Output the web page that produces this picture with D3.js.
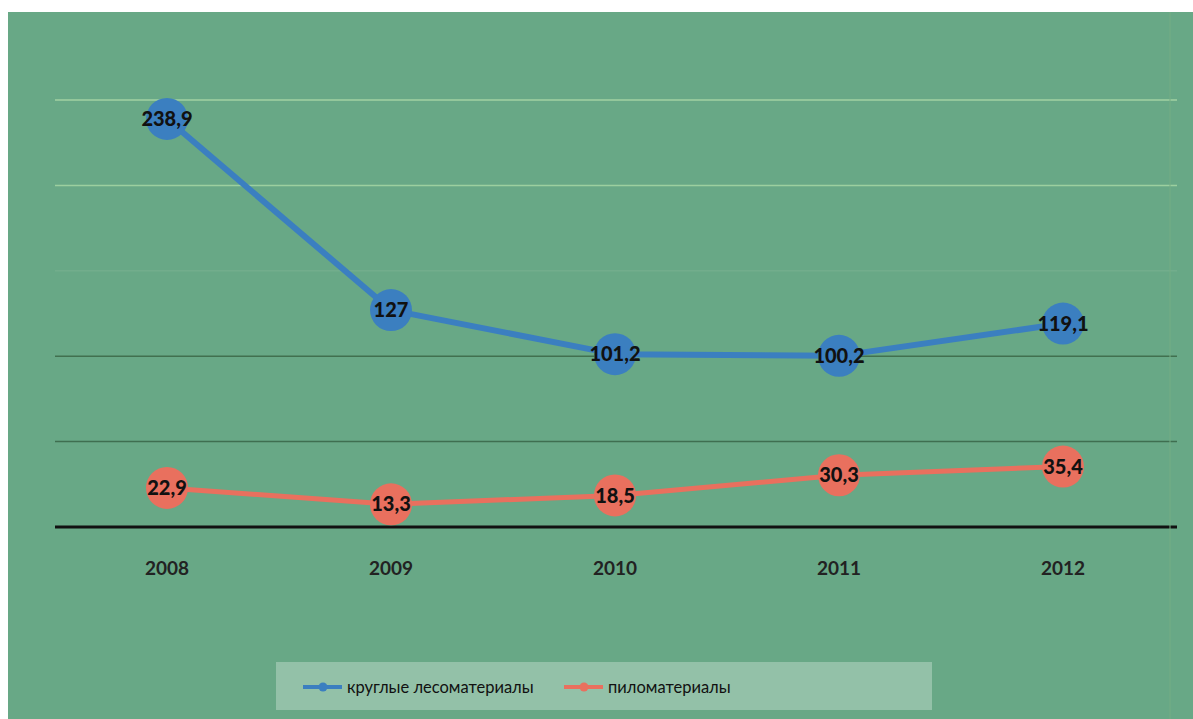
<!DOCTYPE html>
<html><head><meta charset="utf-8">
<script src="https://cdn.jsdelivr.net/npm/d3@7"></script>
<style>html,body{margin:0;padding:0;background:#fff;}svg{display:block;}</style>
</head><body>
<svg id="c" width="1193" height="719"></svg>
<script>
const years = ["2008","2009","2010","2011","2012"];
const roundTimber = [238.9, 127, 101.2, 100.2, 119.1];
const sawnTimber = [22.9, 13.3, 18.5, 30.3, 35.4];
const seriesNames = ["круглые лесоматериалы", "пиломатериалы"];
const gridTicks = [50, 100, 150, 200, 250];

const svg = d3.select("#c");
const W = 1193, H = 719;
const font = "Lato, 'Open Sans', sans-serif";

// background
svg.append("rect").attr("x",8).attr("y",12).attr("width",W-8).attr("height",H-12).attr("fill","#68a886");

const x = d3.scaleBand().domain(years).range([55,1175]);
const cx = d => x(d) + x.bandwidth()/2;
const y = d3.scaleLinear().domain([0,250]).range([527,100]);

const gridColor = {50:"#3f6e50",100:"#41704f",150:"#72ad8c",200:"#9ccf9f",250:"#a2d2a2"};
svg.append("g").selectAll("line").data(gridTicks).join("line")
  .attr("x1",55).attr("x2",1177).attr("y1",d=>y(d)).attr("y2",d=>y(d))
  .attr("stroke",d=>gridColor[d]).attr("stroke-width",1.5);
// baseline axis
const xAxis = svg.append("g").attr("transform",`translate(0,${y(0)})`)
  .call(d3.axisBottom(x).tickSize(0).tickPadding(35));
xAxis.attr("font-size",null).attr("font-family",null);
xAxis.select(".domain").attr("stroke","#111").attr("stroke-width",3).attr("d","M55,0H1177");
xAxis.selectAll("text").style("font-family",font).style("font-weight","bold").style("font-size","19px").attr("fill","#222");

// faint vertical line at right
svg.append("line").attr("x1",1170).attr("x2",1170).attr("y1",12).attr("y2",H).attr("stroke","#74ad84").attr("stroke-width",1);

const series = [
  {name:seriesNames[0], values:roundTimber, color:"#3b7fc0", w:6},
  {name:seriesNames[1], values:sawnTimber, color:"#e9705e", w:5}
];
const line = d3.line().x((d,i)=>cx(years[i])).y(d=>y(d));
series.forEach(s=>{
  const g = svg.append("g");
  g.append("path").attr("d",line(s.values)).attr("fill","none").attr("stroke",s.color).attr("stroke-width",s.w).attr("stroke-linejoin","round");
  g.selectAll("circle").data(s.values).join("circle")
    .attr("cx",(d,i)=>cx(years[i])).attr("cy",d=>y(d)).attr("r",21).attr("fill",s.color);
  g.selectAll("text").data(s.values).join("text")
    .attr("x",(d,i)=>cx(years[i])).attr("y",d=>y(d)).attr("dy","0.36em")
    .attr("text-anchor","middle").style("font-family",font).style("font-weight","900").style("font-size","20px").attr("fill","#111")
    .text(d=>String(d).replace(".",","));
});

// legend
const lg = svg.append("g");
lg.append("rect").attr("x",276).attr("y",662).attr("width",656).attr("height",48).attr("fill","#93c1a8");
const items = [{x:303, s:series[0]},{x:564, s:series[1]}];
items.forEach(it=>{
  lg.append("line").attr("x1",it.x).attr("x2",it.x+39).attr("y1",687).attr("y2",687).attr("stroke",it.s.color).attr("stroke-width",4);
  lg.append("circle").attr("cx",it.x+20).attr("cy",687).attr("r",4.5).attr("fill",it.s.color);
  lg.append("text").attr("x",it.x+44).attr("y",687).attr("dy","0.35em").style("font-family",font).style("font-size","16.5px").attr("fill","#111").text(it.s.name);
});
</script>
</body></html>
